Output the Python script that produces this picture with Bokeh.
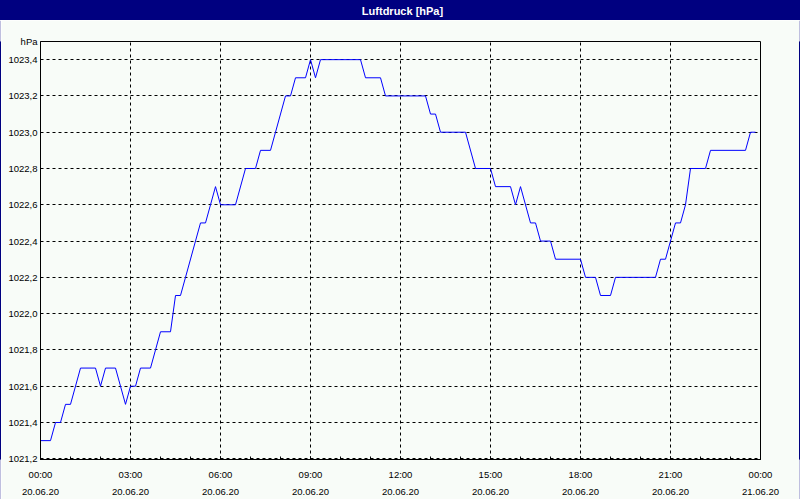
import pandas as pd
from bokeh.plotting import figure
from bokeh.layouts import column, row
from bokeh.models import Range1d, FixedTicker, DatetimeTickFormatter, CustomJSTickFormatter, Label
from bokeh.embed import file_html
from bokeh.resources import INLINE

# ---- data (minutes after 20.06.20 00:00, pressure in hPa) ----
minutes = [0, 20, 30, 40, 50, 60, 80, 110, 120, 130, 150, 170, 180, 190, 200, 220, 240, 260,
           270, 280, 320, 330, 350, 360, 390, 410, 430, 440, 460, 490, 500, 510, 530, 540,
           550, 560, 640, 650, 680, 690, 770, 780, 790, 800, 850, 870, 900, 910, 940, 950,
           960, 980, 990, 1000, 1020, 1030, 1080, 1090, 1110, 1120, 1140, 1150, 1230, 1240,
           1250, 1270, 1280, 1290, 1300, 1330, 1340, 1410, 1420, 1430]
pressure = [1021.3, 1021.3, 1021.4, 1021.4, 1021.5, 1021.5, 1021.7, 1021.7, 1021.6, 1021.7,
            1021.7, 1021.5, 1021.6, 1021.6, 1021.7, 1021.7, 1021.9, 1021.9, 1022.1, 1022.1,
            1022.5, 1022.5, 1022.7, 1022.6, 1022.6, 1022.8, 1022.8, 1022.9, 1022.9, 1023.2,
            1023.2, 1023.3, 1023.3, 1023.4, 1023.3, 1023.4, 1023.4, 1023.3, 1023.3, 1023.2,
            1023.2, 1023.1, 1023.1, 1023.0, 1023.0, 1022.8, 1022.8, 1022.7, 1022.7, 1022.6,
            1022.7, 1022.5, 1022.5, 1022.4, 1022.4, 1022.3, 1022.3, 1022.2, 1022.2, 1022.1,
            1022.1, 1022.2, 1022.2, 1022.3, 1022.3, 1022.5, 1022.5, 1022.6, 1022.8, 1022.8,
            1022.9, 1022.9, 1023.0, 1023.0]
start_day = "2020-06-20"
x_tick_hours = [0, 3, 6, 9, 12, 15, 18, 21, 24]
y_ticks = [1021.2, 1021.4, 1021.6, 1021.8, 1022.0, 1022.2, 1022.4, 1022.6, 1022.8,
           1023.0, 1023.2, 1023.4]
y_min, y_max = 1021.196, 1023.5
title_text = "Luftdruck [hPa]"
unit_text = "hPa"

# ---- build ----
base = pd.Timestamp(start_day)
times = base + pd.to_timedelta(minutes, unit="min")
base_ms = base.value / 1e6
major_ms = [base_ms + h * 3600000 for h in x_tick_hours]
minor_ms = [base_ms + h * 3600000 for h in range(0, 25)]

BG = "#F8FCF8"
NAVY = "#000080"
FONT = "Liberation Sans"
FS = "9.5px"


def navy_panel(w, h):
    f = figure(width=w, height=h, output_backend="svg", toolbar_location=None,
               x_range=Range1d(0, w), y_range=Range1d(0, h),
               x_axis_location=None, y_axis_location=None,
               min_border=0, min_border_left=0, min_border_right=0,
               min_border_top=0, min_border_bottom=0)
    f.background_fill_color = NAVY
    f.border_fill_color = NAVY
    f.outline_line_color = NAVY
    f.outline_line_width = 3
    f.grid.visible = False
    return f


# title bar
bar = navy_panel(800, 20)
bar.add_layout(Label(x=402, y=10, text=title_text, text_align="center",
                     text_baseline="middle", text_color="white", text_font=FONT,
                     text_font_style="bold", text_font_size="11px"))

# main chart
p = figure(width=798, height=479, output_backend="svg", toolbar_location=None,
           x_axis_type="datetime",
           x_range=Range1d(base, base + pd.Timedelta(hours=24)),
           y_range=Range1d(y_min, y_max),
           min_border_left=39, min_border_right=39, min_border_top=21, min_border_bottom=39)
p.background_fill_color = BG
p.border_fill_color = BG
p.outline_line_color = "black"
p.outline_line_width = 1

p.line(times, pressure, line_color="#0000FF", line_width=1)

fmt = "%H:%M\n%d.%m.%y"
p.xaxis.ticker = FixedTicker(ticks=major_ms, minor_ticks=minor_ms)
p.xaxis.formatter = DatetimeTickFormatter(seconds=fmt, minsec=fmt, minutes=fmt, hourmin=fmt,
                                          hours=fmt, days=fmt, months=fmt, years=fmt)
p.yaxis.ticker = FixedTicker(ticks=y_ticks + [y_max])
p.yaxis.formatter = CustomJSTickFormatter(
    args=dict(unit=unit_text, top=y_max),
    code="if (Math.abs(tick - top) < 1e-6) { return unit; } "
         "return tick.toFixed(1).replace('.', ',');")

for ax in (p.xaxis[0], p.yaxis[0]):
    ax.axis_line_color = "black"
    ax.major_label_text_font = FONT
    ax.major_label_text_font_size = FS
    ax.major_label_text_color = "black"

p.xaxis.major_tick_in = 3
p.xaxis.major_tick_out = 0
p.xaxis.minor_tick_in = 3
p.xaxis.minor_tick_out = 0
p.xaxis.major_tick_line_color = "black"
p.xaxis.minor_tick_line_color = "black"
p.xaxis.major_label_standoff = 9
p.xaxis.major_label_text_line_height = 1.55

p.yaxis.major_tick_in = 0
p.yaxis.major_tick_out = 0
p.yaxis.minor_tick_line_color = None
p.yaxis.major_label_standoff = 3

for g in (p.xgrid[0], p.ygrid[0]):
    g.grid_line_color = "black"
    g.grid_line_dash = "3 3"
    g.grid_line_width = 1

left_edge = navy_panel(1, 479)
right_edge = navy_panel(1, 479)
bottom_edge = navy_panel(800, 1)

layout = column(bar, row(left_edge, p, right_edge, spacing=0), bottom_edge, spacing=0)

open("out.html", "w").write(file_html(layout, INLINE))
